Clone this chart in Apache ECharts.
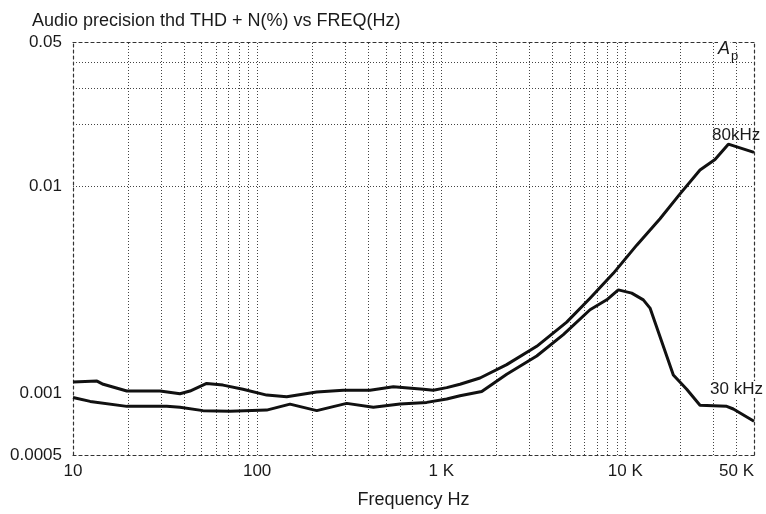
<!DOCTYPE html>
<html>
<head>
<meta charset="utf-8">
<script src="https://cdn.jsdelivr.net/npm/echarts@6/dist/echarts.min.js"></script>
<style>
html,body{margin:0;padding:0;background:#fff;}
#chart{width:766px;height:514px;}
</style>
</head>
<body>
<div id="chart"></div>
<script>
// ---- data ----
const freq80 = [10, 13.5, 14.6, 19.6, 29.7, 38.1, 43.2, 53.2, 65.3, 83.8, 112.7, 144.8, 210.8, 293.9, 410.6, 549.5, 799, 906, 1071, 1265, 1624, 2269, 3302, 4805, 6432, 8606, 11533, 15435, 19823, 25446, 30703, 36275, 50000];
const thd80 = [0.00113, 0.00114, 0.00110, 0.00102, 0.00102, 0.00099, 0.00102, 0.00111, 0.00109, 0.00104, 0.000975, 0.000958, 0.00101, 0.00103, 0.00103, 0.00107, 0.00104, 0.00103, 0.00106, 0.00110, 0.00118, 0.00137, 0.00168, 0.00220, 0.00287, 0.00379, 0.00519, 0.00697, 0.00919, 0.0120, 0.0135, 0.0160, 0.0146];

const freq30 = [10, 12.4, 19.6, 32.3, 38.1, 50.8, 71.3, 112.7, 150.9, 210.8, 306.7, 427.9, 597.3, 834, 1071, 1265, 1660, 2269, 3302, 4605, 6432, 7925, 9162, 10835, 12527, 13623, 18228, 21554, 25446, 35554, 38610, 50000];
const thd30 = [0.000950, 0.000909, 0.000860, 0.000860, 0.000851, 0.000820, 0.000814, 0.000825, 0.000882, 0.000820, 0.000889, 0.000851, 0.000882, 0.000899, 0.000933, 0.000968, 0.001016, 0.001230, 0.001508, 0.001915, 0.002526, 0.002821, 0.003151, 0.003039, 0.002821, 0.002573, 0.001219, 0.001041, 0.000870, 0.000860, 0.000835, 0.000729];

const xTickLabels = {10: '10', 100: '100', 1000: '1 K', 10000: '10 K', 50000: '50 K'};
const yTickLabels = ['0.0005', '0.001', '0.01', '0.05'];
const xGrid = [20,30,40,50,60,70,80,90,100,200,300,400,500,600,700,800,900,1000,2000,3000,4000,5000,6000,7000,8000,9000,10000,20000,30000,40000];
const yGrid = [0.0006,0.0007,0.0008,0.0009,0.001,0.002,0.003,0.004,0.005,0.006,0.007,0.008,0.009,0.01,0.02,0.03,0.04];

const titleText = 'Audio precision thd THD + N(%) vs FREQ(Hz)';
const xName = 'Frequency Hz';

const FONT = '"Liberation Sans", Arial, Helvetica, sans-serif';
const INK = '#1a1a1a';

function pair(xs, ys) { return xs.map((x, i) => [x, ys[i]]); }

function xLabel(v) {
  let best = null, bd = Infinity;
  for (const k in xTickLabels) {
    const d = Math.abs(Math.log10(v) - Math.log10(+k));
    if (d < bd) { bd = d; best = xTickLabels[k]; }
  }
  return bd < 0.01 ? best : '';
}
function yLabel(v) {
  let best = null, bd = Infinity;
  for (const s of yTickLabels) {
    const d = Math.abs(Math.log10(v) - Math.log10(+s));
    if (d < bd) { bd = d; best = s; }
  }
  return bd < 0.01 ? best : '';
}

const gridLineStyle = {color: '#444', width: 1, type: [1, 2]};
const borderStyle = {color: '#333', width: 1.2, type: [3, 3]};

const chart = echarts.init(document.getElementById('chart'), null, {renderer: 'canvas'});
chart.setOption({
  animation: false,
  backgroundColor: '#fff',
  textStyle: {fontFamily: FONT},
  title: {
    text: titleText, left: 27, top: 7,
    textStyle: {fontFamily: FONT, fontSize: 18, fontWeight: 'normal', color: INK}
  },
  grid: {left: 73, right: 12, top: 42, bottom: 56, containLabel: false},
  xAxis: [{
    type: 'log', logBase: 10, min: 10, max: 50000,
    name: xName, nameLocation: 'middle', nameGap: 36,
    nameTextStyle: {fontFamily: FONT, fontSize: 18, color: INK},
    axisLine: {show: true, lineStyle: borderStyle},
    axisTick: {show: false},
    splitLine: {show: false},
    axisLabel: {fontFamily: FONT, fontSize: 17, color: INK, margin: 8, formatter: xLabel, alignMaxLabel: 'right', showMinLabel: true, showMaxLabel: true}
  }, {
    type: 'log', logBase: 10, min: 10, max: 50000, position: 'top',
    axisLine: {show: true, lineStyle: borderStyle},
    axisTick: {show: false}, axisLabel: {show: false}, splitLine: {show: false}
  }],
  yAxis: [{
    type: 'log', logBase: 10, min: 0.0005, max: 0.05,
    axisLine: {show: true, lineStyle: borderStyle},
    axisTick: {show: false},
    splitLine: {show: false},
    axisLabel: {fontFamily: FONT, fontSize: 17, color: INK, margin: 11, formatter: yLabel, showMinLabel: true, showMaxLabel: true}
  }, {
    type: 'log', logBase: 10, min: 0.0005, max: 0.05, position: 'right',
    axisLine: {show: true, lineStyle: borderStyle},
    axisTick: {show: false}, axisLabel: {show: false}, splitLine: {show: false}
  }],
  series: [
    {
      type: 'line', name: 'grid', data: [], silent: true, z: 1,
      markLine: {
        silent: true, symbol: 'none', animation: false,
        label: {show: false},
        lineStyle: gridLineStyle,
        emphasis: {disabled: true},
        data: xGrid.map(v => ({xAxis: v})).concat(yGrid.map(v => ({yAxis: v})))
      }
    },
    {
      type: 'line', name: '80kHz', data: pair(freq80, thd80), showSymbol: false, z: 5,
      lineStyle: {color: '#111', width: 3}, itemStyle: {color: '#111'}
    },
    {
      type: 'line', name: '30 kHz', data: pair(freq30, thd30), showSymbol: false, z: 5,
      lineStyle: {color: '#111', width: 3}, itemStyle: {color: '#111'}
    }
  ],
  graphic: [
    {type: 'text', left: 718, top: 40, z: 10, style: {text: 'A', font: 'italic 18px ' + FONT, fill: INK, backgroundColor: '#fff'}},
    {type: 'text', left: 731, top: 50, z: 10, style: {text: 'p', font: '13px ' + FONT, fill: INK}},
    {type: 'text', left: 712, top: 127, z: 10, style: {text: '80kHz', font: '17px ' + FONT, fill: INK}},
    {type: 'text', left: 708, top: 381, z: 10, style: {text: '30 kHz', font: '17px ' + FONT, fill: INK, backgroundColor: '#fff', padding: [0, 0, 0, 2]}}
  ]
});
</script>
</body>
</html>
